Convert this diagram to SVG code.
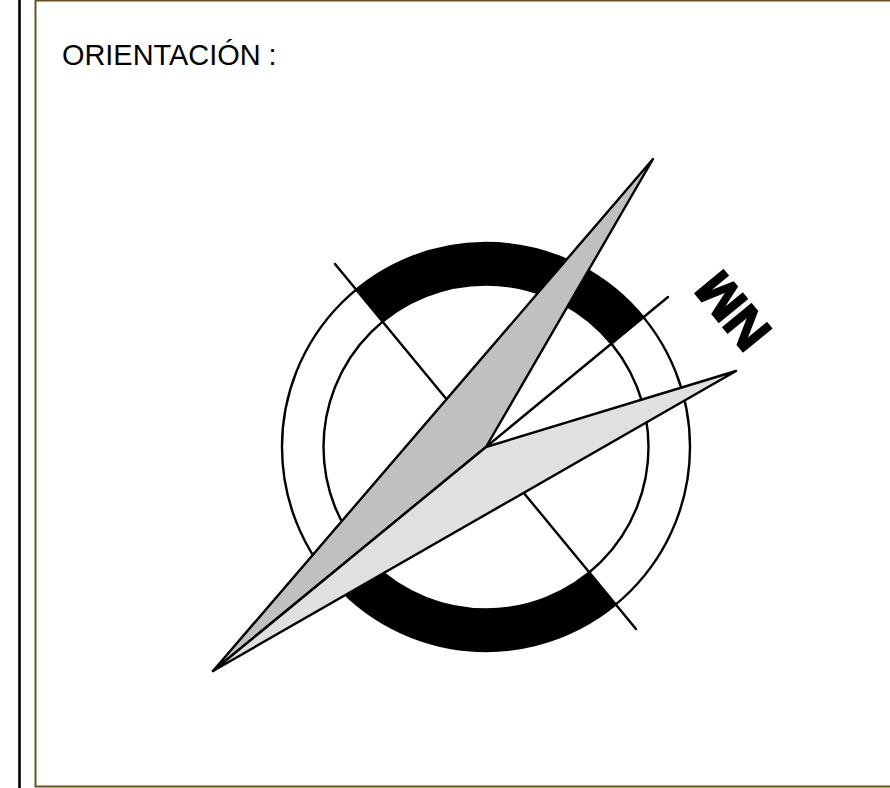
<svg xmlns="http://www.w3.org/2000/svg" width="890" height="788" viewBox="0 0 890 788">
<style>
.k{fill:none;stroke:#000;stroke-width:2.4;stroke-linecap:round;stroke-linejoin:round}
.t{font-family:"Liberation Sans",Arial,sans-serif;fill:#000}
</style>
<rect width="890" height="788" fill="#fff"/>
<g id="frame">
<line x1="19.5" y1="0" x2="19.5" y2="788" stroke="#000" stroke-width="2.6"/>
<rect x="35.5" y="0.5" width="870" height="786" fill="none" stroke="#665022" stroke-width="2"/>
</g>
<text id="title" class="t" x="62" y="65" font-size="28.9">ORIENTACIÓN :</text>
<g id="compass">
<path id="arc-top" fill="#000" d="M356.2 289.6A204 204 0 0 1 643.3 317.3L611.3 343.7A162.5 162.5 0 0 0 382.6 321.7Z"/>
<path id="arc-bottom" fill="#000" d="M615.8 604.3A204 204 0 0 1 328.7 576.7L360.7 550.3A162.5 162.5 0 0 0 589.4 572.3Z"/>
<circle class="k" cx="486" cy="447" r="204"/>
<circle class="k" cx="486" cy="447" r="162.5"/>
<line class="k" x1="335" y1="264" x2="636" y2="629"/>
<line class="k" x1="486" y1="447" x2="668" y2="297"/>
<polygon id="needle-dark" class="k" style="fill:#c0c0c0" points="653,159 486,447 213,671"/>
<polygon id="needle-light" class="k" style="fill:#e0e0e0" points="736,371 486,447 213,671"/>
<text id="nm" class="t" font-weight="bold" font-size="53" stroke="#000" stroke-width="2" transform="translate(773.5,331) rotate(-129.5)">NM</text>
</g>
</svg>
